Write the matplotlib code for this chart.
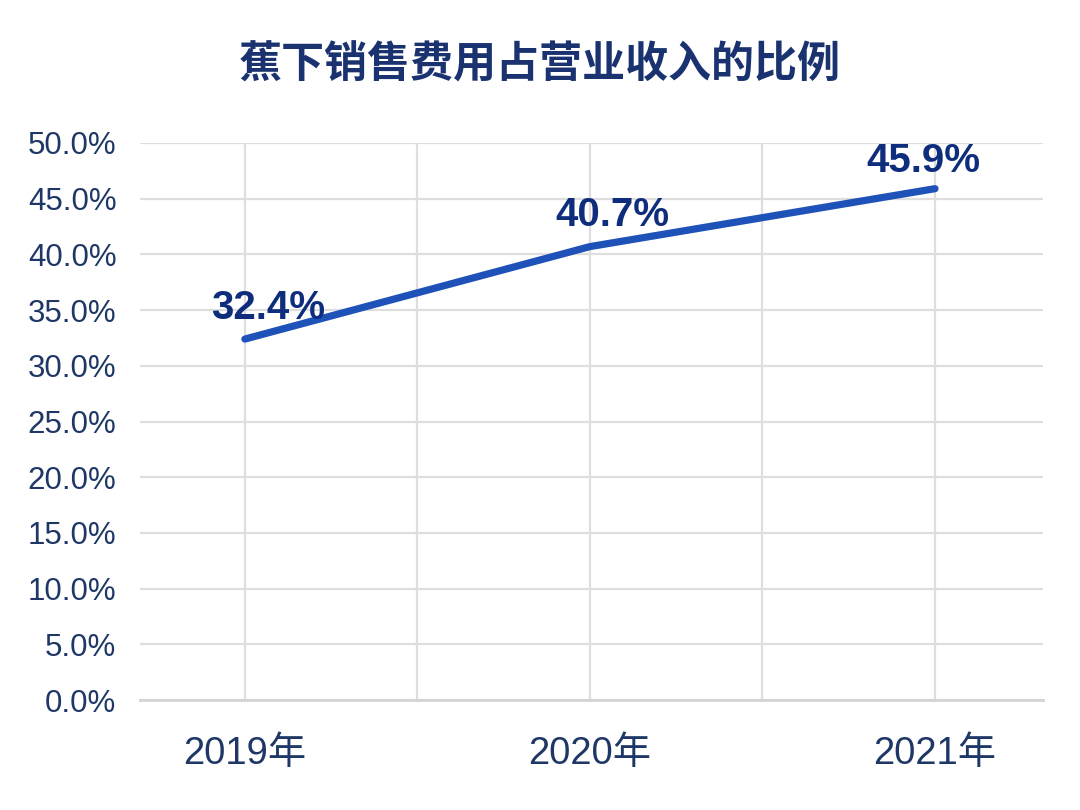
import matplotlib
matplotlib.use("Agg")
import matplotlib.pyplot as plt
from matplotlib.ticker import MultipleLocator, FuncFormatter

plt.rcParams['font.family'] = ['Liberation Sans', 'Noto Sans CJK SC', 'DejaVu Sans']

title = "蕉下销售费用占营业收入的比例"
years = ["2019年", "2020年", "2021年"]
ratio = [32.4, 40.7, 45.9]

fig = plt.figure(figsize=(10.8, 8.1), dpi=100)
ax = fig.add_axes([140/1080, 1-700/810, (1043-140)/1080, (700-143)/810])

x = list(range(len(years)))
ax.plot(x, ratio, color="#1f52b8", lw=5.2, solid_capstyle="round", zorder=3)

offsets = [(16.5, 9), (16, 9), (-8.5, 6)]
for xi, v, off in zip(x, ratio, offsets):
    ax.annotate(f"{v:.1f}%", (xi, v), xytext=off, textcoords="offset points",
                ha="center", va="bottom", fontsize=29, fontweight="bold",
                color="#0e2d7c", zorder=4)

ax.set_ylim(0, 50)
ax.set_xlim(-0.304, 2.313)
ax.yaxis.set_major_locator(MultipleLocator(5))
ax.yaxis.set_major_formatter(FuncFormatter(lambda v, p: f"{v:.1f}%"))
ax.set_xticks(x)
ax.set_xticklabels(years)
ax.set_xticks([0.5, 1.5], minor=True)

ax.grid(True, which="major", axis="y", color="#dedede", lw=1.6)
ax.grid(True, which="both", axis="x", color="#dedede", lw=1.6)
ax.set_axisbelow(True)
for s in ["top", "right", "left"]:
    ax.spines[s].set_visible(False)
ax.spines["bottom"].set_color("#d4d4d4")
ax.spines["bottom"].set_linewidth(2)

ax.tick_params(axis="y", length=0, pad=17, labelsize=22.5, labelcolor="#1f3766")
ax.tick_params(axis="x", which="both", length=0, pad=26, labelsize=27.5, labelcolor="#1f3766")

fig.text(0.5, 1-65/810, title, ha="center", va="center", fontsize=31,
         fontweight="bold", color="#1a3370",
         family=["Noto Sans CJK SC", "DejaVu Sans"])

fig.savefig("out.png", dpi=100, facecolor="white")
